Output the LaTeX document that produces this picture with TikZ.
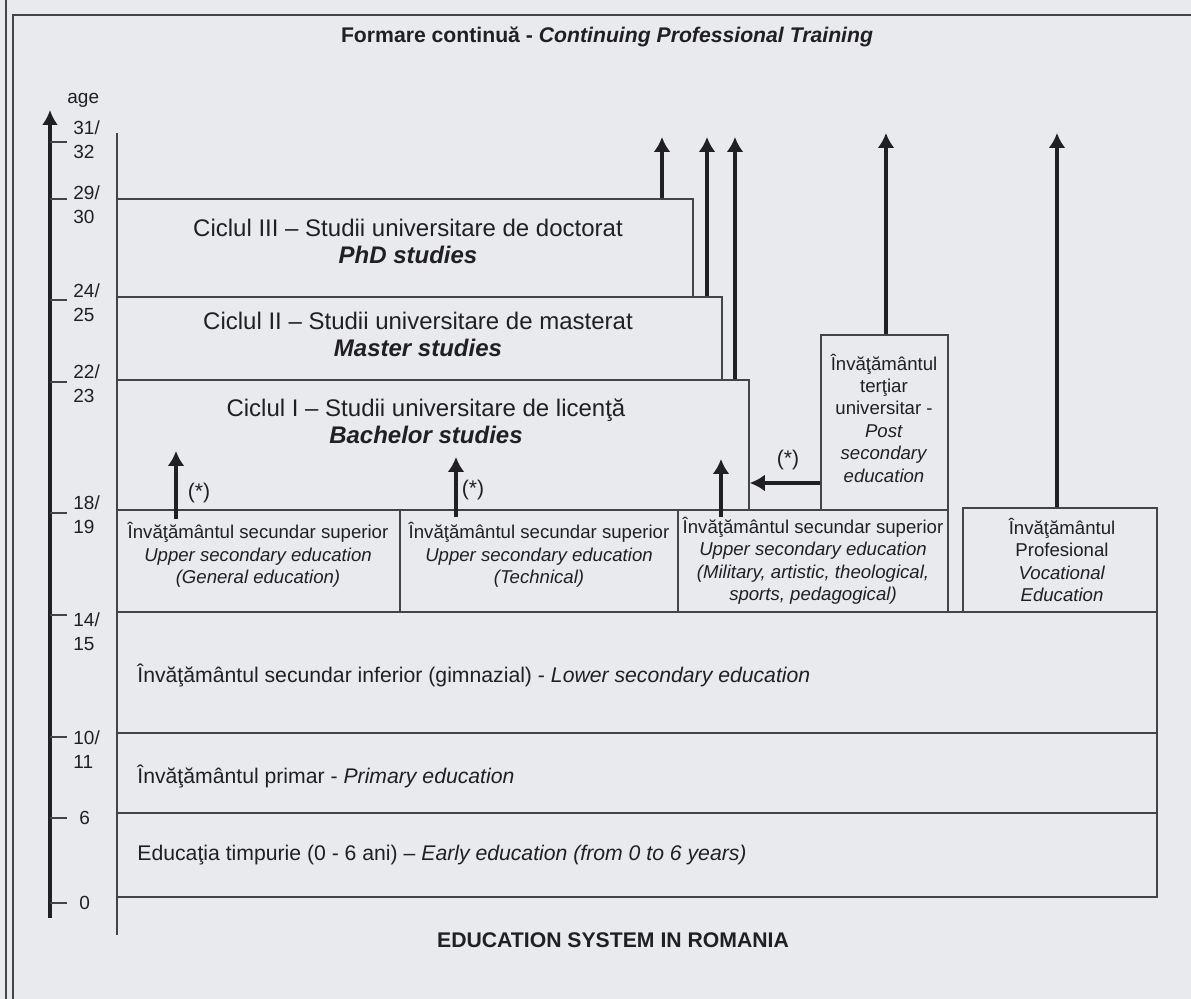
\documentclass[tikz,border=0pt]{standalone}
\usepackage{fontspec}
\setmainfont{Liberation Sans}
\usetikzlibrary{arrows.meta,fit}
\definecolor{paper}{RGB}{233,234,238}
\definecolor{ink}{RGB}{32,32,36}
\definecolor{rule}{RGB}{68,68,72}
\begin{document}
\begin{tikzpicture}[x=0.5pt,y=-0.5pt,
    box/.style={draw=rule,line width=0.8pt,rectangle,inner sep=0pt},
    big/.style={text=ink,font=\fontsize{12}{13.5}\selectfont,align=center,inner sep=0pt},
    small/.style={text=ink,font=\fontsize{9.3}{11.2}\selectfont,align=center,inner sep=0pt},
    row/.style={text=ink,font=\fontsize{10.6}{12}\selectfont,anchor=west,inner sep=0pt},
    ttl/.style={text=ink,font=\fontsize{10.6}{12}\selectfont\bfseries,inner sep=0pt},
    agelbl/.style={text=ink,font=\fontsize{9.5}{12}\selectfont,align=left,anchor=west,inner sep=0pt},
    star/.style={text=ink,font=\fontsize{10.6}{12}\selectfont,inner sep=0pt},
    uparr/.style={draw=ink,line width=1.6pt,-{Latex[length=7.5pt,width=8.5pt]}},
    thin/.style={draw=rule,line width=0.8pt}]
  \useasboundingbox[fill=paper] (0,0) rectangle (1191,999);
  \draw[thin] (6,0) -- (6,999);
  \draw[thin] (13,999) -- (13,15) -- (1191,15);

  \node[ttl] (title) at (607,37) {Formare continuă - \textit{Continuing Professional Training}};
  \node[ttl] (caption) at (613,940) {EDUCATION SYSTEM IN ROMANIA};

  % age axis
  \coordinate (abot) at (50,918);
  \coordinate (atop) at (50,110);
  \draw[draw=ink,line width=2pt,-{Latex[length=7.5pt,width=8pt]}] (abot) -- (atop);
  \node[agelbl] (age) at (67,100) {age};
  \foreach \ty/\ly/\na/\nb in {142/140/31/32,199/205/29/30,300/303/24/25,382/384/22/23,
                               513/515/18/19,615/632/14/15,737/750/10/11}{
    \draw[thin] (50,\ty) -- (67,\ty);
    \node[agelbl] (lbl\na) at (73,\ly) {\na/\\\nb};
  }
  \draw[thin] (50,818) -- (67,818);
  \node[agelbl] (lbl6) at (79,818) {6};
  \draw[thin] (50,903) -- (67,903);
  \node[agelbl] (lbl0) at (79,903) {0};
  \draw[thin] (117,133) -- (117,935);

  % boxes
  \node[box,fit={(117,199) (693,297)}] (phd) {};
  \node[box,fit={(117,297) (722,380)}] (master) {};
  \node[box,fit={(117,380) (749,510)}] (bach) {};
  \node[box,fit={(117,510) (400,612)}] (gen) {};
  \node[box,fit={(400,510) (678,612)}] (tech) {};
  \node[box,fit={(678,510) (948,612)}] (spec) {};
  \node[box,fit={(821,335) (948,510)}] (post) {};
  \node[box,fit={(963,508) (1157,612)}] (prof) {};
  \node[box,fit={(117,612) (1157,733)}] (lowsec) {};
  \node[box,fit={(117,733) (1157,813)}] (prim) {};
  \node[box,fit={(117,813) (1157,897)}] (early) {};

  \node[big] (phdtxt) at (408,241) {Ciclul III – Studii universitare de doctorat\\\textbf{\textit{PhD studies}}};
  \node[big] (mastxt) at (418,334) {Ciclul II – Studii universitare de masterat\\\textbf{\textit{Master studies}}};
  \node[big] (bachtxt) at (426,421) {Ciclul I – Studii universitare de licenţă\\\textbf{\textit{Bachelor studies}}};
  \node[small] (gentxt) at (258,555) {Învăţământul secundar superior\\\textit{Upper secondary education}\\\textit{(General education)}};
  \node[small] (techtxt) at (539,555) {Învăţământul secundar superior\\\textit{Upper secondary education}\\\textit{(Technical)}};
  \node[small] (spectxt) at (813,561) {Învăţământul secundar superior\\\textit{Upper secondary education}\\\textit{(Military, artistic, theological,}\\\textit{sports, pedagogical)}};
  \node[small] (posttxt) at (884,418) {Învăţământul\\terţiar\\universitar -\\\textit{Post}\\\textit{secondary}\\\textit{education}};
  \node[small] (proftxt) at (1062,560) {Învăţământul\\Profesional\\\textit{Vocational}\\\textit{Education}};
  \node[row] (lowtxt) at (137,675) {Învăţământul secundar inferior (gimnazial) - \textit{Lower secondary education}};
  \node[row] (primtxt) at (137,776) {Învăţământul primar - \textit{Primary education}};
  \node[row] (earlytxt) at (137,855) {Educaţia timpurie (0 - 6 ani) – \textit{Early education (from 0 to 6 years)}};

  % continuing training
  \coordinate (t1) at (662,137);
  \coordinate (t2) at (707,137);
  \coordinate (t3) at (735,137);
  \coordinate (t4) at (886,133);
  \coordinate (t5) at (1057,133);
  \draw[uparr] (phd.north -| t1) -- (t1);
  \draw[uparr] (master.north -| t2) -- (t2);
  \draw[uparr] (bach.north -| t3) -- (t3);
  \draw[uparr] (post.north -| t4) -- (t4);
  \draw[uparr] (prof.north -| t5) -- (t5);

  % (*) routes
  \coordinate (e1) at (176,451);
  \coordinate (e2) at (456,457);
  \coordinate (e3) at (721,459);
  \coordinate (h) at (790,483);
  \draw[uparr] ([yshift=-5pt]gen.north -| e1) -- (e1);
  \draw[uparr] ([yshift=-4pt]tech.north -| e2) -- (e2);
  \draw[uparr] ([yshift=-4pt]spec.north -| e3) -- (e3);
  \draw[uparr] (post.west |- h) -- (bach.east |- h);
  \node[star] (st1) at (199,493) {(*)};
  \node[star] (st2) at (473,490) {(*)};
  \node[star] (st3) at (788,460) {(*)};
\end{tikzpicture}
\end{document}
